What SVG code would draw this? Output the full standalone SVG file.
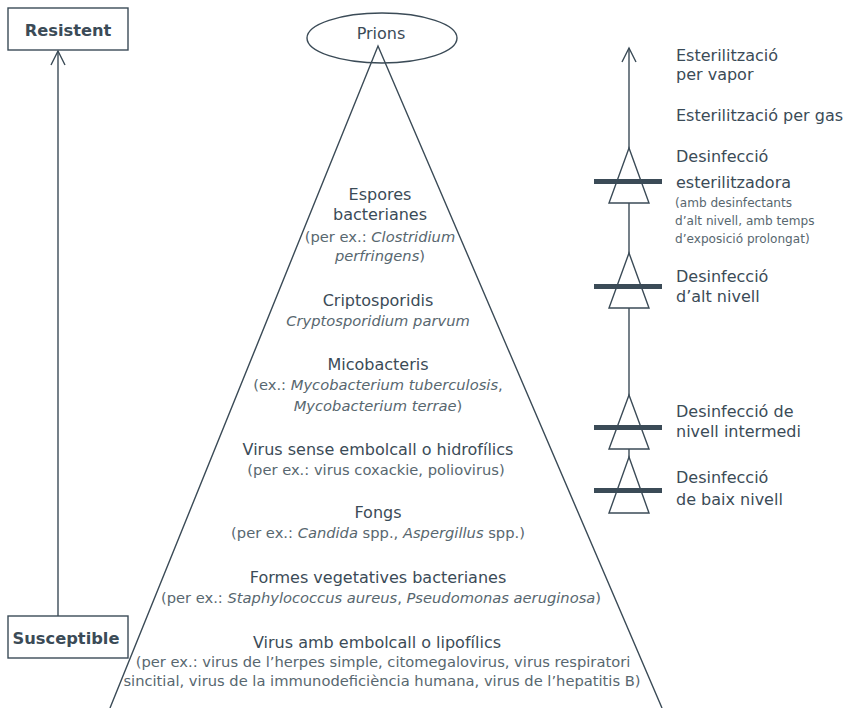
<svg xmlns="http://www.w3.org/2000/svg" width="846" height="708" viewBox="0 0 846 708">
<defs>
<style>
.ln{stroke:#3b4b57;stroke-width:1.4;fill:none}
.box{stroke:#3b4b57;stroke-width:1.4;fill:#fff}
.tri{stroke:#3b4b57;stroke-width:1.4;fill:#fff}
.bar{fill:#3b4b57}
.lbl{font-family:"DejaVu Sans","Noto Sans",sans-serif;font-weight:700;font-size:16.3px;fill:#3b4b57}
.t{font-family:"DejaVu Sans","Noto Sans",sans-serif;font-size:16px;fill:#3b4b57;text-anchor:middle}
.s{font-family:"DejaVu Sans","Noto Sans",sans-serif;font-size:14.7px;fill:#58676f;text-anchor:middle}
.r{font-family:"DejaVu Sans","Noto Sans",sans-serif;font-size:16px;fill:#3b4b57}
.rs{font-family:"DejaVu Sans","Noto Sans",sans-serif;font-size:12.1px;fill:#58676f}
.i{font-style:italic}
</style>
</defs>
<g id="connectors">
<line class="ln" x1="58" y1="616" x2="58" y2="51"/>
<path class="ln" d="M51,65 L58,51 L65,65"/>
<line class="ln" x1="629" y1="513" x2="629" y2="48"/>
<path class="ln" d="M622,62 L629,48 L636,62"/>
</g>
<g id="pyramid">
<polyline class="ln" points="110,708 378,46 662,708"/>
</g>
<g id="resistent">
<rect class="box" x="8" y="8" width="120" height="42"/>
<text class="lbl" x="68" y="36" text-anchor="middle">Resistent</text>
</g>
<g id="susceptible">
<rect class="box" x="8" y="616" width="120" height="42"/>
<text class="lbl" x="66" y="644" text-anchor="middle">Susceptible</text>
</g>
<g id="prions">
<ellipse cx="382" cy="38" rx="75" ry="25" class="ln"/>
<text class="t" x="381" y="39">Prions</text>
</g>
<g id="espores">
<text class="t" x="380" y="200">Espores</text>
<text class="t" x="380" y="220">bacterianes</text>
<text class="s" x="380" y="242">(per ex.: <tspan class="i">Clostridium</tspan></text>
<text class="s" x="380" y="261"><tspan class="i">perfringens</tspan>)</text>
</g>
<g id="criptosporidis">
<text class="t" x="378" y="306">Criptosporidis</text>
<text class="s i" x="378" y="326">Cryptosporidium parvum</text>
</g>
<g id="micobacteris">
<text class="t" x="378" y="370">Micobacteris</text>
<text class="s" x="378" y="390">(ex.: <tspan class="i">Mycobacterium tuberculosis</tspan>,</text>
<text class="s" x="378" y="411"><tspan class="i">Mycobacterium terrae</tspan>)</text>
</g>
<g id="virus-sense">
<text class="t" x="378" y="455">Virus sense embolcall o hidrofílics</text>
<text class="s" x="376" y="475">(per ex.: virus coxackie, poliovirus)</text>
</g>
<g id="fongs">
<text class="t" x="378" y="518">Fongs</text>
<text class="s" x="378" y="538">(per ex.: <tspan class="i">Candida</tspan> spp., <tspan class="i">Aspergillus</tspan> spp.)</text>
</g>
<g id="formes">
<text class="t" x="378" y="583">Formes vegetatives bacterianes</text>
<text class="s" x="381" y="603">(per ex.: <tspan class="i">Staphylococcus aureus</tspan>, <tspan class="i">Pseudomonas aeruginosa</tspan>)</text>
</g>
<g id="virus-amb">
<text class="t" x="377" y="648">Virus amb embolcall o lipofílics</text>
<text class="s" x="383" y="667">(per ex.: virus de l’herpes simple, citomegalovirus, virus respiratori</text>
<text class="s" x="382" y="686">sincitial, virus de la immunodeficiència humana, virus de l’hepatitis B)</text>
</g>
<g id="esterilitzacio-vapor">
<text class="r" x="676" y="61">Esterilització</text>
<text class="r" x="676" y="80">per vapor</text>
</g>
<g id="esterilitzacio-gas">
<text class="r" x="676" y="121">Esterilització per gas</text>
</g>
<g id="desinfeccio-esterilitzadora">
<polygon class="tri" points="629,148 649,203 609,203"/>
<rect class="bar" x="594" y="179" width="68" height="5"/>
<text class="r" x="676" y="162">Desinfecció</text>
<text class="r" x="676" y="188">esterilitzadora</text>
<text class="rs" x="675" y="207">(amb desinfectants</text>
<text class="rs" x="675" y="225">d’alt nivell, amb temps</text>
<text class="rs" x="675" y="243">d’exposició prolongat)</text>
</g>
<g id="desinfeccio-alt">
<polygon class="tri" points="629,253 649,308 609,308"/>
<rect class="bar" x="594" y="284" width="68" height="5"/>
<text class="r" x="676" y="282">Desinfecció</text>
<text class="r" x="676" y="302">d’alt nivell</text>
</g>
<g id="desinfeccio-intermedi">
<polygon class="tri" points="629,395 649,449 609,449"/>
<rect class="bar" x="594" y="425" width="68" height="5"/>
<text class="r" x="676" y="417">Desinfecció de</text>
<text class="r" x="676" y="437">nivell intermedi</text>
</g>
<g id="desinfeccio-baix">
<polygon class="tri" points="629,457 649,513 609,513"/>
<rect class="bar" x="594" y="488" width="68" height="5"/>
<text class="r" x="676" y="483">Desinfecció</text>
<text class="r" x="676" y="505">de baix nivell</text>
</g>
</svg>
